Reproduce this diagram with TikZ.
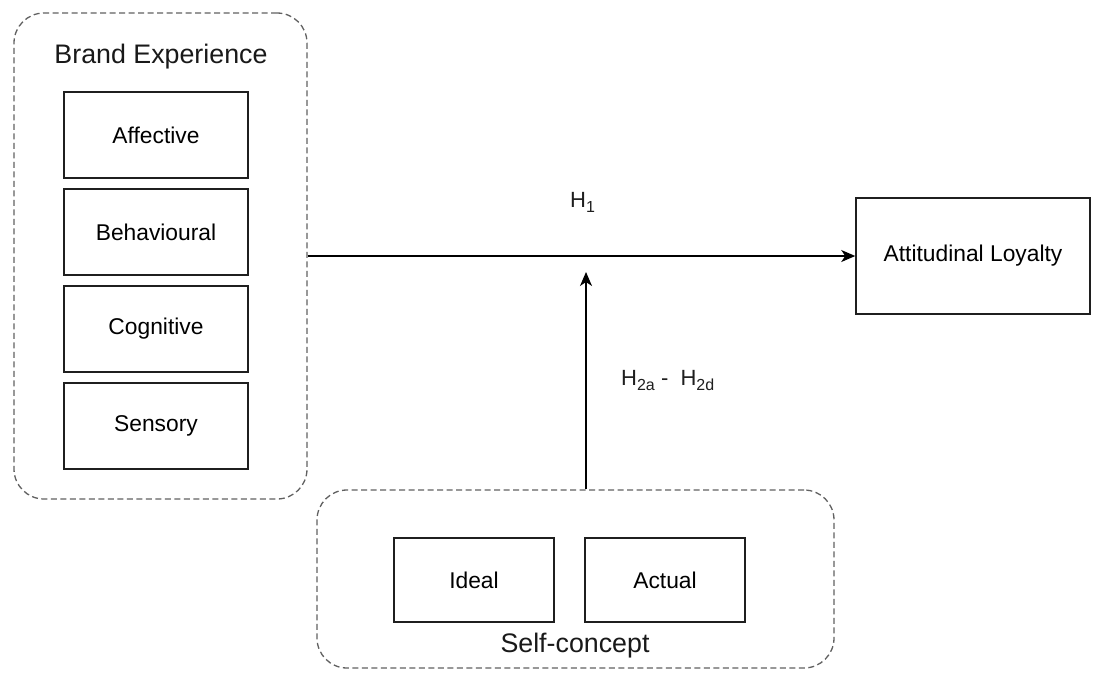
\documentclass[tikz,border=0pt]{standalone}
\usepackage{fontspec}
\setmainfont{Liberation Sans}
\usetikzlibrary{arrows.meta}
\newcommand{\hsub}[1]{\raisebox{-5pt}{\fontsize{16}{16}\selectfont #1}}
\begin{document}
\begin{tikzpicture}[x=1pt,y=-1pt,
  container/.style={draw=black!62, line width=1.3pt, dash pattern=on 6pt off 3.5pt, rounded corners=30pt, inner sep=0pt},
  itembox/.style={draw=black!88, line width=1.5pt, inner sep=0pt, font=\fontsize{22.8}{26}\selectfont},
  title/.style={font=\fontsize{26.8}{30}\selectfont, text=black!90, inner sep=0pt},
  hlabel/.style={font=\fontsize{22}{26}\selectfont, text=black!88, inner sep=0pt},
  link/.style={draw=black, line width=1.5pt, -{Stealth[length=14pt,width=12pt,inset=4pt]}}
]
\useasboundingbox (0,0) rectangle (1096,673);
\fill[white] (0,0) rectangle (1096,673);

% Brand Experience group
\node[container, minimum width=293pt, minimum height=486pt] (be) at (160.5,256) {};
\node[title, anchor=base] (betitle) at (161,63) {Brand Experience};
\node[itembox, minimum width=184pt, minimum height=86pt] (aff) at (156,135) {Affective};
\node[itembox, minimum width=184pt, minimum height=86pt] (beh) at (156,232) {Behavioural};
\node[itembox, minimum width=184pt, minimum height=86pt] (cog) at (156,329) {Cognitive};
\node[itembox, minimum width=184pt, minimum height=86pt] (sen) at (156,426) {Sensory};

% Attitudinal Loyalty
\node[itembox, minimum width=234pt, minimum height=116pt] (al) at (973,256) {Attitudinal Loyalty};

% Self-concept group
\node[container, minimum width=517pt, minimum height=178pt] (sc) at (575.5,579) {};
\node[itembox, minimum width=160pt, minimum height=84pt] (ideal) at (474,580) {Ideal};
\node[itembox, minimum width=160pt, minimum height=84pt] (actual) at (665,580) {Actual};
\node[title, anchor=base] (sctitle) at (575,652) {Self-concept};

% connectors
\coordinate (tip) at (586,272);
\draw[link] (be.east) -- (al.west);
\draw[link] (sc.north -| tip) -- (tip);

% labels
\node[hlabel, anchor=base west] (h1) at (570,207) {H\hsub{1}};
\node[hlabel, anchor=base west] (h2) at (621,385) {H\hsub{2a} -~ H\hsub{2d}};
\end{tikzpicture}
\end{document}
